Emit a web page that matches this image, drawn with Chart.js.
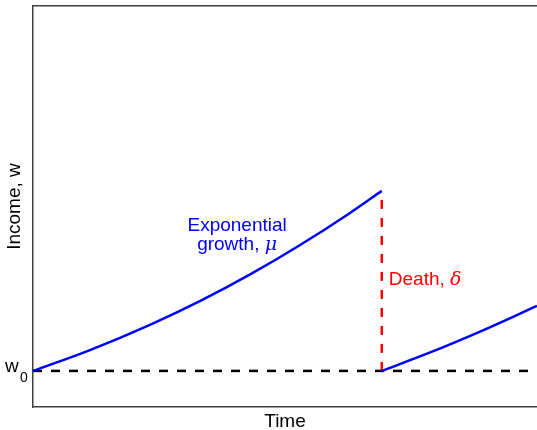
<!DOCTYPE html>
<html>
<head>
<meta charset="utf-8">
<script src="https://cdn.jsdelivr.net/npm/chart.js@4"></script>
<style>
  body { margin: 0; background: #fff; }
  #wrap { width: 537px; height: 430px; }
</style>
</head>
<body>
<div id="wrap"><canvas id="grafico"></canvas></div>
<script>
// curva antes da morte
const timeGrowth = [0, 11.3, 23.2, 33.1, 43.0, 53.0, 62.9, 69.2];
const incomeGrowth = [9.0, 14.2, 20.5, 26.4, 33.0, 40.4, 48.4, 53.9];
// curva depois da morte (recomeça em w0)
const timeAfter = [69.2, 78.8, 88.7, 100];
const incomeAfter = [9.0, 13.6, 18.8, 25.2];
const w0 = 9.0;
const deathTime = 69.2;
const timeRange = [0, 100];
const incomeRange = [0, 100];

const labels = [
  { text: 'Exponential', sym: '', t: 40.5, w: 43.9, color: '#0000ff', align: 'center' },
  { text: 'growth, ', sym: 'μ', t: 40.5, w: 39.2, color: '#0000ff', align: 'center' },
  { text: 'Death, ', sym: 'δ', t: 70.6, w: 30.4, color: '#ff0000', align: 'left' }
];

const toPoints = (xs, ys) => xs.map((x, i) => ({ x: x, y: ys[i] }));

const SANS = '"Liberation Sans", Arial, sans-serif';

const textoPlugin = {
  id: 'texto',
  afterDraw(chart) {
    const ctx = chart.ctx;
    const sx = chart.scales.x, sy = chart.scales.y;
    ctx.save();
    ctx.textBaseline = 'alphabetic';
    labels.forEach(l => {
      ctx.font = '19px ' + SANS;
      let wText = ctx.measureText(l.text).width;
      ctx.font = 'italic 19px "DejaVu Serif", serif';
      let wSym = l.sym ? ctx.measureText(l.sym).width : 0;
      let px = sx.getPixelForValue(l.t);
      let py = sy.getPixelForValue(l.w);
      let start = l.align === 'center' ? px - (wText + wSym) / 2 : px;
      ctx.fillStyle = l.color;
      ctx.textAlign = 'left';
      ctx.font = '19px ' + SANS;
      ctx.fillText(l.text, start, py);
      if (l.sym) {
        ctx.font = 'italic 19px "DejaVu Serif", serif';
        ctx.fillText(l.sym, start + wText, py);
      }
    });
    // rótulo w0 no eixo
    let yw = sy.getPixelForValue(w0);
    ctx.fillStyle = '#000';
    ctx.font = '19px ' + SANS;
    ctx.fillText('w', 5, yw + 1);
    ctx.font = '14px ' + SANS;
    ctx.fillText('0', 20, yw + 11);
    ctx.restore();
  }
};

let graf = new Chart(document.getElementById('grafico'), {
  type: 'scatter',
  data: {
    datasets: [
      {
        data: toPoints(timeGrowth, incomeGrowth),
        showLine: true,
        borderColor: '#0000ff',
        borderWidth: 2.5,
        pointRadius: 0,
        cubicInterpolationMode: 'monotone',
        order: 1
      },
      {
        data: toPoints(timeAfter, incomeAfter),
        showLine: true,
        borderColor: '#0000ff',
        borderWidth: 2.5,
        pointRadius: 0,
        cubicInterpolationMode: 'monotone',
        order: 1
      },
      {
        data: [{ x: deathTime, y: w0 }, { x: deathTime, y: incomeGrowth[incomeGrowth.length - 1] }],
        showLine: true,
        borderColor: '#ff0000',
        borderWidth: 2.5,
        borderDash: [9, 9],
        pointRadius: 0,
        order: 2
      },
      {
        data: [{ x: timeRange[0], y: w0 }, { x: timeRange[1], y: w0 }],
        showLine: true,
        borderColor: '#000000',
        borderWidth: 2.5,
        borderDash: [9, 9],
        pointRadius: 0,
        order: 3
      }
    ]
  },
  options: {
    animation: false,
    responsive: true,
    maintainAspectRatio: false,
    layout: { padding: 0 },
    plugins: {
      legend: { display: false },
      tooltip: { enabled: false }
    },
    scales: {
      x: {
        type: 'linear',
        position: 'bottom',
        min: timeRange[0],
        max: timeRange[1],
        ticks: { display: false },
        grid: { display: false },
        border: { display: true, color: '#404040', width: 1.5 },
        title: { display: true, text: 'Time', color: '#000', font: { size: 19, family: SANS }, padding: { top: 0, bottom: -3 } },
        afterFit: s => { s.height = 23; }
      },
      xTop: {
        type: 'linear',
        position: 'top',
        ticks: { display: false },
        grid: { display: false },
        border: { display: true, color: '#404040', width: 1.5 },
        afterFit: s => { s.height = 6; }
      },
      y: {
        min: incomeRange[0],
        max: incomeRange[1],
        ticks: { display: false },
        grid: { display: false },
        border: { display: true, color: '#404040', width: 1.5 },
        title: { display: true, text: 'Income, w', color: '#000', font: { size: 19, family: SANS }, padding: 3 },
        afterFit: s => { s.width = 33; }
      }
    }
  },
  plugins: [textoPlugin]
});
</script>
</body>
</html>
